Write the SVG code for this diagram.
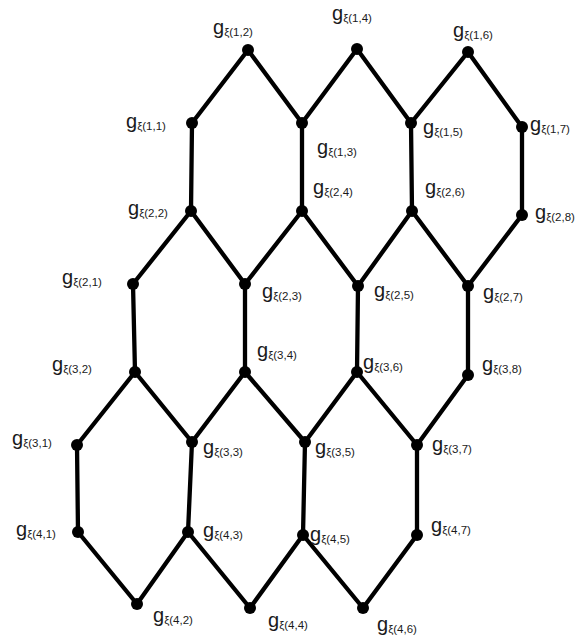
<svg xmlns="http://www.w3.org/2000/svg" width="577" height="642" viewBox="0 0 577 642">
<style>
.e{stroke:#000;stroke-width:4.3;fill:none;stroke-linejoin:round;stroke-linecap:round}
.n{fill:#000}
.l{font-family:"Liberation Sans",Arial,sans-serif;font-size:20px;fill:#1a1a1a}
.s{font-size:11.5px}
</style>
<rect width="577" height="642" fill="#fff"/>
<g id="connectors">
<polyline class="e" points="192,123 248,50 302,123 357,49 411,123 468,52 522,127"/>
<polyline class="e" points="133,284 191,211 245,284 302,211 358,286 412,211 468,286 522,215"/>
<polyline class="e" points="77,445 135,372 192,442 245,372 305,442 357,372 417,445 468,375"/>
<polyline class="e" points="78,532 137,604 188,532 250,608 303,535 363,608 417,535"/>
<line class="e" x1="192" y1="123" x2="191" y2="211"/>
<line class="e" x1="302" y1="123" x2="302" y2="211"/>
<line class="e" x1="411" y1="123" x2="412" y2="211"/>
<line class="e" x1="522" y1="127" x2="522" y2="215"/>
<line class="e" x1="133" y1="284" x2="135" y2="372"/>
<line class="e" x1="245" y1="284" x2="245" y2="372"/>
<line class="e" x1="358" y1="286" x2="357" y2="372"/>
<line class="e" x1="468" y1="286" x2="468" y2="375"/>
<line class="e" x1="77" y1="445" x2="78" y2="532"/>
<line class="e" x1="192" y1="442" x2="188" y2="532"/>
<line class="e" x1="305" y1="442" x2="303" y2="535"/>
<line class="e" x1="417" y1="445" x2="417" y2="535"/>
</g>
<g id="n11"><circle class="n" cx="192" cy="123" r="6"/><text class="l" x="126" y="128">g<tspan class="s" dy="2">ξ(1,1)</tspan></text></g>
<g id="n12"><circle class="n" cx="248" cy="50" r="6"/><text class="l" x="213" y="34">g<tspan class="s" dy="2">ξ(1,2)</tspan></text></g>
<g id="n13"><circle class="n" cx="302" cy="123" r="6"/><text class="l" x="317" y="154">g<tspan class="s" dy="2">ξ(1,3)</tspan></text></g>
<g id="n14"><circle class="n" cx="357" cy="49" r="6"/><text class="l" x="332" y="20">g<tspan class="s" dy="2">ξ(1,4)</tspan></text></g>
<g id="n15"><circle class="n" cx="411" cy="123" r="6"/><text class="l" x="423" y="134">g<tspan class="s" dy="2">ξ(1,5)</tspan></text></g>
<g id="n16"><circle class="n" cx="468" cy="52" r="6"/><text class="l" x="453" y="37">g<tspan class="s" dy="2">ξ(1,6)</tspan></text></g>
<g id="n17"><circle class="n" cx="522" cy="127" r="6"/><text class="l" x="530" y="131">g<tspan class="s" dy="2">ξ(1,7)</tspan></text></g>
<g id="n21"><circle class="n" cx="133" cy="284" r="6"/><text class="l" x="62" y="284">g<tspan class="s" dy="2">ξ(2,1)</tspan></text></g>
<g id="n22"><circle class="n" cx="191" cy="211" r="6"/><text class="l" x="128" y="215">g<tspan class="s" dy="2">ξ(2,2)</tspan></text></g>
<g id="n23"><circle class="n" cx="245" cy="284" r="6"/><text class="l" x="262" y="298">g<tspan class="s" dy="2">ξ(2,3)</tspan></text></g>
<g id="n24"><circle class="n" cx="302" cy="211" r="6"/><text class="l" x="313" y="194">g<tspan class="s" dy="2">ξ(2,4)</tspan></text></g>
<g id="n25"><circle class="n" cx="358" cy="286" r="6"/><text class="l" x="374" y="297">g<tspan class="s" dy="2">ξ(2,5)</tspan></text></g>
<g id="n26"><circle class="n" cx="412" cy="211" r="6"/><text class="l" x="425" y="194">g<tspan class="s" dy="2">ξ(2,6)</tspan></text></g>
<g id="n27"><circle class="n" cx="468" cy="286" r="6"/><text class="l" x="483" y="299">g<tspan class="s" dy="2">ξ(2,7)</tspan></text></g>
<g id="n28"><circle class="n" cx="522" cy="215" r="6"/><text class="l" x="535" y="219">g<tspan class="s" dy="2">ξ(2,8)</tspan></text></g>
<g id="n31"><circle class="n" cx="77" cy="445" r="6"/><text class="l" x="12" y="445">g<tspan class="s" dy="2">ξ(3,1)</tspan></text></g>
<g id="n32"><circle class="n" cx="135" cy="372" r="6"/><text class="l" x="52" y="371">g<tspan class="s" dy="2">ξ(3,2)</tspan></text></g>
<g id="n33"><circle class="n" cx="192" cy="442" r="6"/><text class="l" x="203" y="454">g<tspan class="s" dy="2">ξ(3,3)</tspan></text></g>
<g id="n34"><circle class="n" cx="245" cy="372" r="6"/><text class="l" x="257" y="357">g<tspan class="s" dy="2">ξ(3,4)</tspan></text></g>
<g id="n35"><circle class="n" cx="305" cy="442" r="6"/><text class="l" x="315" y="454">g<tspan class="s" dy="2">ξ(3,5)</tspan></text></g>
<g id="n36"><circle class="n" cx="357" cy="372" r="6"/><text class="l" x="363" y="369">g<tspan class="s" dy="2">ξ(3,6)</tspan></text></g>
<g id="n37"><circle class="n" cx="417" cy="445" r="6"/><text class="l" x="432" y="451">g<tspan class="s" dy="2">ξ(3,7)</tspan></text></g>
<g id="n38"><circle class="n" cx="468" cy="375" r="6"/><text class="l" x="482" y="371">g<tspan class="s" dy="2">ξ(3,8)</tspan></text></g>
<g id="n41"><circle class="n" cx="78" cy="532" r="6"/><text class="l" x="16" y="536">g<tspan class="s" dy="2">ξ(4,1)</tspan></text></g>
<g id="n42"><circle class="n" cx="137" cy="604" r="6"/><text class="l" x="153" y="622">g<tspan class="s" dy="2">ξ(4,2)</tspan></text></g>
<g id="n43"><circle class="n" cx="188" cy="532" r="6"/><text class="l" x="203" y="537">g<tspan class="s" dy="2">ξ(4,3)</tspan></text></g>
<g id="n44"><circle class="n" cx="250" cy="608" r="6"/><text class="l" x="268" y="627">g<tspan class="s" dy="2">ξ(4,4)</tspan></text></g>
<g id="n45"><circle class="n" cx="303" cy="535" r="6"/><text class="l" x="310" y="541">g<tspan class="s" dy="2">ξ(4,5)</tspan></text></g>
<g id="n46"><circle class="n" cx="363" cy="608" r="6"/><text class="l" x="377" y="631">g<tspan class="s" dy="2">ξ(4,6)</tspan></text></g>
<g id="n47"><circle class="n" cx="417" cy="535" r="6"/><text class="l" x="431" y="532">g<tspan class="s" dy="2">ξ(4,7)</tspan></text></g>
</svg>
